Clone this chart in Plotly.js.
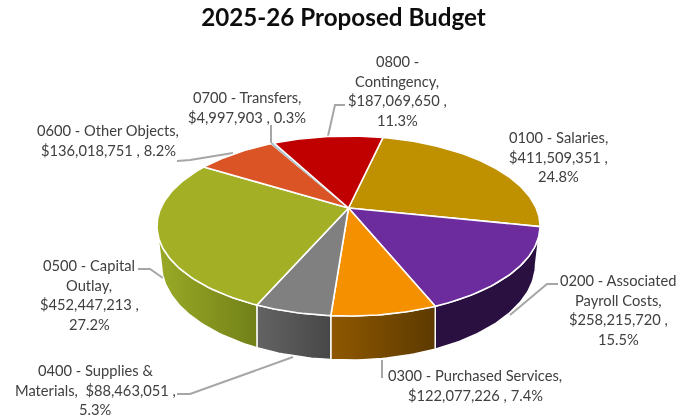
<!DOCTYPE html>
<html>
<head>
<meta charset="utf-8">
<script src="https://cdn.plot.ly/plotly-3.0.1.min.js"></script>
<style>
html,body{margin:0;padding:0;background:#fff;overflow:hidden}
#chart{width:694px;height:417px;filter:blur(0.45px)}
</style>
</head>
<body>
<div id="chart"></div>
<script>
// ---- data ----
const categories = ["0100 - Salaries","0200 - Associated Payroll Costs","0300 - Purchased Services","0400 - Supplies & Materials","0500 - Capital Outlay","0600 - Other Objects","0700 - Transfers","0800 - Contingency"];
const values = [411509351,258215720,122077226,88463051,452447213,136018751,4997903,187069650];
const labelLines = [
  ["0100 - Salaries,","$411,509,351 ,","24.8%"],
  ["0200 - Associated","Payroll Costs,","$258,215,720 ,","15.5%"],
  ["0300 - Purchased Services,","$122,077,226 , 7.4%"],
  ["0400 - Supplies &","Materials,  $88,463,051 ,","5.3%"],
  ["0500 - Capital","Outlay,","$452,447,213 ,","27.2%"],
  ["0600 - Other Objects,","$136,018,751 , 8.2%"],
  ["0700 - Transfers,","$4,997,903 , 0.3%"],
  ["0800 -","Contingency,","$187,069,650 ,","11.3%"]
];
// ---- styles ----
const topColors = ["#BF9000","#6C2C9E","#F59000","#808080","#A3B026","#DB5426","#A9C0CC","#C00000"];
const wallFrom  = ["#6a5000","#2A1040","#8F5800","#636363","#9AAA26","#7a2e14","#667","#6a0000"];
const wallTo    = ["#6a5000","#2A1040","#5C3A00","#474747","#728118","#7a2e14","#667","#6a0000"];
const labelCx = [558,618,475,95,89,108,247,397];
const labelY0 = [137,280,375,370,265,130,97,61];
const lineGap = 19.6;
const leaders = [
  "M558,284 L547,284 L510,315",
  "M382,360 L382,378",
  "M177,394 L190,394 L293,357",
  "M138,269 L150,269 L163,278",
  "M177,161 L190,160 L233,153",
  "M271,125 L271,143",
  "M345,105 L335,105 L328,136"
];
// ---- projection of the pie disc ----
const cx=348.5, cy=226, rx=191.5, ry=90, persp=0.2, startDeg=12.7;
const botCy=264, botRy=96, botRx=187;
const k=Math.sqrt(1-persp*persp);
function project(deg){
  const t=deg*Math.PI/180, u=Math.sin(t), v=-Math.cos(t), d=1-persp*v;
  return {nx:u*k/d, ny:(v-persp)/d};
}
function topXY(nx,ny){return [cx+rx*nx, cy+ry*ny];}
function botXY(nx){
  const f=1-(1-botRx/rx)*Math.pow(nx,4);
  const bx=nx*f*rx;
  const s=Math.sqrt(Math.max(0,1-Math.pow(bx/botRx,2)));
  return [cx+bx, botCy+botRy*s];
}
const total=values.reduce((a,b)=>a+b,0);
const wallTraces=[], topTraces=[];
let acc=startDeg;
values.forEach((val,i)=>{
  const sweep=val/total*360, n=Math.max(2,Math.ceil(sweep/1.2));
  const arc=[];
  for(let j=0;j<=n;j++) arc.push(project(acc+sweep*j/n));
  // top face
  const xs=[cx], ys=[cy+ry*(-persp)];
  arc.forEach(p=>{const q=topXY(p.nx,p.ny);xs.push(q[0]);ys.push(q[1]);});
  xs.push(cx);ys.push(cy+ry*(-persp));
  const isThin=sweep<3;
  topTraces.push({type:"scatter",mode:"lines",x:xs,y:ys,fill:"toself",fillcolor:topColors[i],
    line:{color:isThin?topColors[i]:"#FFFFFF",width:isThin?1.2:1.6},name:categories[i],hoverinfo:"name"});
  // side wall (near half only)
  const near=arc.filter(p=>p.ny>=0);
  if(near.length>1){
    const wx=[],wy=[];
    near.forEach(p=>{const q=topXY(p.nx,p.ny);wx.push(q[0]);wy.push(q[1]);});
    near.slice().reverse().forEach(p=>{const q=botXY(p.nx);wx.push(q[0]);wy.push(q[1]);});
    wx.push(wx[0]);wy.push(wy[0]);
    wallTraces.push({type:"scatter",mode:"lines",x:wx,y:wy,fill:"toself",
      fillgradient:{type:"horizontal",colorscale:[[0,wallFrom[i]],[1,wallTo[i]]]},
      line:{color:"#FFFFFF",width:1.4},hoverinfo:"skip"});
  }
  acc+=sweep;
});
const annotations=[];
labelLines.forEach((lines,i)=>{
  lines.forEach((t,j)=>{
    annotations.push({x:labelCx[i],y:labelY0[i]+j*lineGap,xref:"x",yref:"y",text:t,showarrow:false,
      xanchor:"center",yanchor:"middle",font:{family:"Lato, 'Open Sans', sans-serif",size:14.7,color:"#404040"}});
  });
});
const shapes=leaders.map(p=>({type:"path",path:p,xref:"x",yref:"y",line:{color:"#A6A6A6",width:2},layer:"below"}));
const layout={
  width:694,height:417,margin:{l:0,r:0,t:0,b:0},paper_bgcolor:"#fff",plot_bgcolor:"#fff",showlegend:false,
  title:{text:"<b>2025-26 Proposed Budget</b>",x:0.495,xanchor:"center",y:0.958,yanchor:"middle",
    font:{family:"Lato, 'Open Sans', sans-serif",size:24.2,color:"#0d0d0d"}},
  xaxis:{range:[0,694],visible:false,fixedrange:true},
  yaxis:{range:[417,0],visible:false,fixedrange:true},
  annotations:annotations,shapes:shapes
};
Plotly.newPlot("chart",wallTraces.concat(topTraces),layout,{displayModeBar:false,staticPlot:true});
</script>
</body>
</html>
